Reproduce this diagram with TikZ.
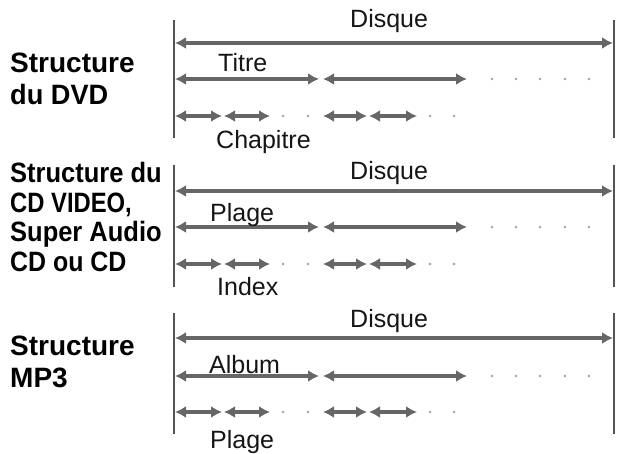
\documentclass[tikz,border=0pt]{standalone}
\usepackage{fontspec}
\setmainfont{Liberation Sans}
\usetikzlibrary{arrows.meta}
\definecolor{arr}{HTML}{666666}
\definecolor{vline}{HTML}{555555}
\definecolor{dotc}{HTML}{A0A0A0}
\definecolor{txt}{HTML}{151515}
\newcommand{\hsq}[2]{\scalebox{#1}[1]{#2}}
\begin{document}
\begin{tikzpicture}[x=1pt,y=-1pt,
  dim/.style={draw=arr, line width=3.5pt, {Latex[length=11pt,width=12pt]}-{Latex[length=11pt,width=12pt]}},
  bound/.style={draw=vline, line width=2.5pt},
  dotmark/.style={circle, fill=dotc, inner sep=0pt, minimum size=2.8pt},
  lbl/.style={anchor=base west, inner sep=0pt, text=txt, font=\fontsize{25}{25}\selectfont},
  ttl/.style={anchor=base west, inner sep=0pt, text=black, font=\fontsize{28}{28}\selectfont\bfseries}]
\useasboundingbox (0,0) rectangle (621,454);

\foreach \s/\t/\a/\b/\c/\e in {1/20/43/79/116/138, 2/165/191/227/264/287, 3/313/338/376/412/434}{
  \coordinate (L\s-t) at (174,\t); \coordinate (L\s-b) at (174,\e);
  \coordinate (R\s-t) at (614,\t); \coordinate (R\s-b) at (614,\e);
  \draw[bound] (L\s-t) -- (L\s-b);
  \draw[bound] (R\s-t) -- (R\s-b);
  % disc row
  \coordinate (D\s-l) at (175,\a); \coordinate (D\s-r) at (613,\a);
  \draw[dim] (D\s-l) -- (D\s-r);
  % second row
  \coordinate (A\s-0) at (175,\b); \coordinate (A\s-1) at (319,\b);
  \coordinate (A\s-2) at (323,\b); \coordinate (A\s-3) at (467,\b);
  \draw[dim] (A\s-0) -- (A\s-1);
  \draw[dim] (A\s-2) -- (A\s-3);
  \foreach \x [count=\i] in {492,516,540,565,589}
    \node[dotmark] (P\s-\i) at (\x,\b) {};
  % third row
  \coordinate (B\s-0) at (175,\c); \coordinate (B\s-1) at (222,\c);
  \coordinate (B\s-2) at (224,\c); \coordinate (B\s-3) at (270,\c);
  \coordinate (B\s-4) at (323,\c); \coordinate (B\s-5) at (367,\c);
  \coordinate (B\s-6) at (369,\c); \coordinate (B\s-7) at (417,\c);
  \draw[dim] (B\s-0) -- (B\s-1);
  \draw[dim] (B\s-2) -- (B\s-3);
  \draw[dim] (B\s-4) -- (B\s-5);
  \draw[dim] (B\s-6) -- (B\s-7);
  \foreach \x [count=\i] in {283,308,430,454}
    \node[dotmark] (Q\s-\i) at (\x,\c) {};
}

% labels
\node[lbl] (disque1) at (350,28) {Disque};
\node[lbl] (titre)   at (218,72) {Titre};
\node[lbl] (chap)    at (216,149) {Chapitre};
\node[lbl] (disque2) at (350,180) {Disque};
\node[lbl] (plage1)  at (210,222) {Plage};
\node[lbl] (index)   at (217,295) {Index};
\node[lbl] (disque3) at (350,327) {Disque};
\node[lbl] (album)   at (209,373) {Album};
\node[lbl] (plage2)  at (210,448) {Plage};

% titles
\node[ttl] (t1a) at (10,73)  {Structure};
\node[ttl] (t1b) at (10,105) {\hsq{0.97}{du DVD}};
\node[ttl] (t2a) at (10,183) {\hsq{0.91}{Structure du}};
\node[ttl] (t2b) at (10,213) {\hsq{0.85}{CD VIDEO,}};
\node[ttl] (t2c) at (10,242) {\hsq{0.91}{Super Audio}};
\node[ttl] (t2d) at (10,272) {\hsq{0.89}{CD ou CD}};
\node[ttl] (t3a) at (10,355) {Structure};
\node[ttl] (t3b) at (10,387) {MP3};
\end{tikzpicture}
\end{document}
